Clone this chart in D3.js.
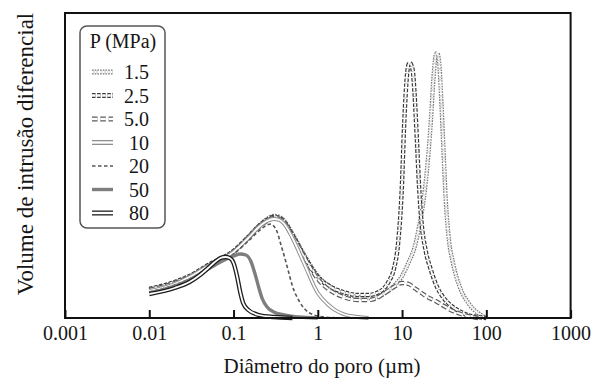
<!DOCTYPE html>
<html><head><meta charset="utf-8">
<script src="https://cdn.jsdelivr.net/npm/d3@7"></script>
<style>body{margin:0;background:#fff}svg{display:block}</style>
</head><body><svg id="c" width="599" height="381"></svg>
<script>
// Tick labels (pore diameter, µm)
const tickValues = [0.001, 0.01, 0.1, 1, 10, 100, 1000];
const tickLabels = ["0.001", "0.01", "0.1", "1", "10", "100", "1000"];
// Series (pressure, MPa) – differential intrusion volume (arbitrary units)
const seriesNames = ["1.5", "2.5", "5.0", "10", "20", "50", "80"];

const d15 = [0.01,0.02,0.03,0.05,0.1,0.15,0.2,0.25,0.3,0.35,0.4,0.5,0.7,1,1.5,2,3,4,5,6,8,10,12,14,16,18,20,22,23.5,25,26,27.5,29,31,33,36,40,50,60,70,80,90,100];
const v15 = [28,35,41,52,67,81,92,99,102,101,97,84,62,42,30,25,21,20,21,24,32,42,56,70,92,118,153,198,238,262,265,256,223,168,118,78,56,28,16,9,5,2,0];

const d25 = [0.01,0.02,0.03,0.05,0.1,0.15,0.2,0.25,0.3,0.35,0.4,0.5,0.7,1,1.5,2,3,4,5,6,7,8,9,10,10.5,11,11.5,12,12.5,13,13.5,14,15,16,17,19,22,26,30,40,50,60,80,100];
const v25 = [29,36,42,53,67,81,92,98,101,100,96,83,61,41,30,26,23,23,25,29,37,49,76,136,186,222,245,254,255,252,245,227,178,128,96,68,48,31,22,11,6,3,1,0];

const d50 = [0.01,0.02,0.03,0.05,0.1,0.15,0.2,0.25,0.3,0.35,0.4,0.5,0.7,1,1.5,2,3,4,5,6,8,10,12,14,17,20,25,30,40,50,60,80];
const v50 = [28,35,41,52,66,80,91,97,100,99,95,82,60,39,26,21,18,18,20,24,31,35,34,30,25,21,17,13,7,4,2,0];

const d10 = [0.01,0.02,0.03,0.05,0.1,0.15,0.2,0.25,0.3,0.35,0.4,0.5,0.7,1,1.3,1.6,2,3,4];
const v10 = [27,34,41,52,66,80,91,97,99,98,94,80,53,25,14,8,4,1,0];

const d20 = [0.01,0.02,0.03,0.05,0.1,0.15,0.2,0.25,0.28,0.3,0.33,0.36,0.4,0.45,0.5,0.6,0.7,0.9,1.2,2];
const v20 = [26,33,39,50,64,77,87,93,94,92,86,75,62,46,32,17,9,3,1,0];

const dP50 = [0.01,0.02,0.03,0.05,0.07,0.1,0.12,0.14,0.16,0.18,0.2,0.22,0.25,0.3,0.4,0.6,1];
const vP50 = [25,32,38,49,56,62,64,63,57,44,30,19,11,6,3,1,0];

const d80 = [0.01,0.02,0.03,0.04,0.05,0.06,0.07,0.08,0.09,0.1,0.11,0.12,0.13,0.15,0.2,0.3,0.5];
const v80 = [24,30,36,43,50,56,60,61,60,55,42,26,15,8,3,1,0];

const seriesX = [d15, d25, d50, d10, d20, dP50, d80];
const seriesY = [v15, v25, v50, v10, v20, vP50, v80];

// styles: outer stroke + optional white inner stroke (double-line look)
const styles = {
  "1.5": {color:"#7a7a7a", w:4.4, inner:2.0, dash:"1.6,1.1"},
  "2.5": {color:"#383838", w:4.4, inner:2.0, dash:"3.5,1.6"},
  "5.0": {color:"#5a5a5a", w:4.4, inner:2.0, dash:"5.5,2.8"},
  "10":  {color:"#8e8e8e", w:3.8, inner:1.8, dash:null},
  "20":  {color:"#555", w:1.6, inner:0, dash:"3.5,2.5"},
  "50":  {color:"#7e7e7e", w:3.4, inner:0, dash:null},
  "80":  {color:"#1e1e1e", w:4.4, inner:1.8, dash:null}
};
const FONT = '"Liberation Serif", "Times New Roman", Times, serif';
const TXT = "#151515";

const svg = d3.select("#c");
const x = d3.scaleLog().domain([0.001, 1000]).range([65, 570.6]);
const y = d3.scaleLinear().domain([0, 305]).range([318, 13]);

const line = d3.line().x(d => x(d[0])).y(d => y(d[1])).curve(d3.curveMonotoneX);

const plot = svg.append("g");
seriesNames.forEach((name, i) => {
  const pts = seriesX[i].map((d, j) => [d, seriesY[i][j]]);
  const s = styles[name];
  plot.append("path").attr("d", line(pts)).attr("fill", "none")
    .attr("stroke", s.color).attr("stroke-width", s.w)
    .attr("stroke-dasharray", s.dash).attr("stroke-linejoin", "round");
  if (s.inner) {
    plot.append("path").attr("d", line(pts)).attr("fill", "none")
      .attr("stroke", "#fff").attr("stroke-width", s.inner)
      .attr("stroke-dasharray", s.dash);
  }
});

// frame
svg.append("rect").attr("x", 65).attr("y", 13).attr("width", 505.6).attr("height", 305)
  .attr("fill", "none").attr("stroke", "#111").attr("stroke-width", 2);

// x axis
const ax = svg.append("g").attr("transform", "translate(0,318)")
  .call(d3.axisBottom(x).tickValues(tickValues).tickSize(-8).tickPadding(8)
    .tickFormat((d, i) => tickLabels[i]));
ax.attr("font-family", null).attr("font-size", null);
ax.select(".domain").remove();
ax.selectAll(".tick line").attr("stroke", "#111").attr("stroke-width", 2);
ax.selectAll(".tick text").style("font-family", FONT)
  .style("font-size", "20px").attr("fill", TXT);

svg.append("text").attr("x", 322).attr("y", 373).attr("text-anchor", "middle")
  .style("font-family", FONT).style("font-size", "21px").attr("fill", TXT)
  .text("Diâmetro do poro (µm)");
svg.append("text").attr("transform", "translate(33,154) rotate(-90)")
  .attr("text-anchor", "middle").style("font-family", FONT).style("font-size", "23px")
  .attr("fill", TXT).text("Volume de intrusão diferencial");

// legend
const lg = svg.append("g");
lg.append("rect").attr("x", 80).attr("y", 26).attr("width", 85).attr("height", 202)
  .attr("rx", 7).attr("fill", "#fff").attr("stroke", "#555").attr("stroke-width", 1.5);
lg.append("text").attr("x", 123).attr("y", 48).attr("text-anchor", "middle")
  .style("font-family", FONT).style("font-size", "20px").attr("fill", TXT).text("P (MPa)");
seriesNames.forEach((name, i) => {
  const cy = 72 + i * 23.5;
  const s = styles[name];
  lg.append("line").attr("x1", 92).attr("x2", 113).attr("y1", cy).attr("y2", cy)
    .attr("stroke", s.color).attr("stroke-width", s.inner ? 5 : s.w)
    .attr("stroke-dasharray", s.dash);
  if (s.inner) lg.append("line").attr("x1", 92).attr("x2", 113).attr("y1", cy).attr("y2", cy)
    .attr("stroke", "#fff").attr("stroke-width", 2.4).attr("stroke-dasharray", s.dash);
  lg.append("text").attr("x", 149).attr("y", cy + 7).attr("text-anchor", "end")
    .style("font-family", FONT).style("font-size", "20px").attr("fill", TXT).text(name);
});
</script></body></html>
